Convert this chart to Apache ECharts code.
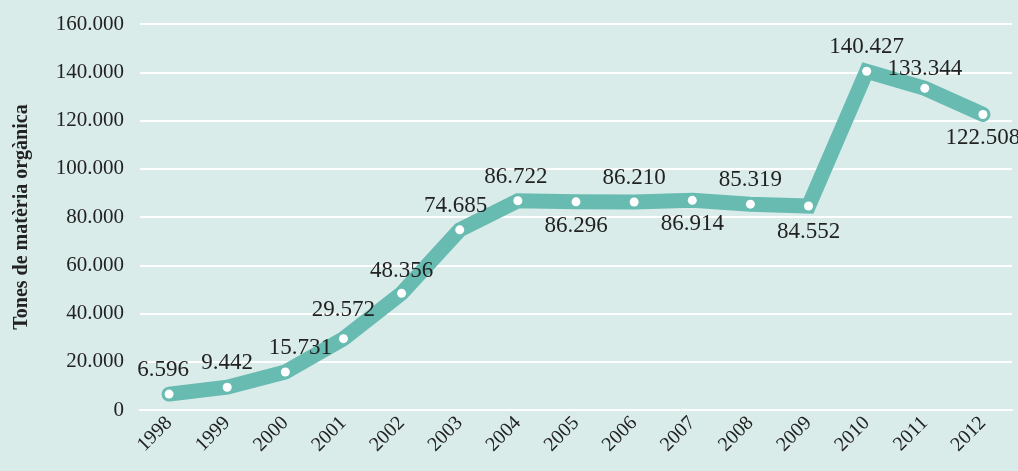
<!DOCTYPE html>
<html>
<head>
<meta charset="utf-8">
<script src="https://cdn.jsdelivr.net/npm/echarts@6/dist/echarts.min.js"></script>
<style>
  html,body{margin:0;padding:0;background:#d9ecea;}
  #chart{width:1018px;height:471px;}
</style>
</head>
<body>
<div id="chart"></div>
<script>
// dades
var years = ['1998','1999','2000','2001','2002','2003','2004','2005','2006','2007','2008','2009','2010','2011','2012'];
var tones = [6596, 9442, 15731, 29572, 48356, 74685, 86722, 86296, 86210, 86914, 85319, 84552, 140427, 133344, 122508];
// on va l'etiqueta de cada punt
var labelPos = ['top','top','top','top','top','top','top','bottom','top','bottom','top','bottom','top','top','bottom'];
var labelShift = [[-6,0],[0,0],[15,0],[0,-5],[0,2],[-4,0],[-2,0],[0,0],[0,0],[0,0],[0,0],[0,2],[0,0],[0,5],[0,0]];

function fmt(v){
    return String(v).replace(/\B(?=(\d{3})+(?!\d))/g, '.');
}

var myChart = echarts.init(document.getElementById('chart'));
var FONT = '"Liberation Serif", "DejaVu Serif", serif';

var seriesData = tones.map(function(v, i){
    return {
        value: v,
        label: {position: labelPos[i], offset: labelShift[i]}
    };
});

myChart.setOption({
    backgroundColor: '#d9ecea',
    animation: false,
    grid: {left: 140, right: 6, top: 24, bottom: 61},
    xAxis: {
        type: 'category',
        data: years,
        axisLine: {lineStyle: {color: '#ffffff', width: 2}},
        axisTick: {alignWithLabel: true, length: 7, lineStyle: {color: '#ffffff', width: 2}},
        axisLabel: {rotate: 45, color: '#222', fontFamily: FONT, fontSize: 20, margin: 10}
    },
    yAxis: {
        type: 'value',
        min: 0,
        max: 160000,
        interval: 20000,
        name: 'Tones de matèria orgànica',
        nameLocation: 'middle',
        nameGap: 108,
        nameTextStyle: {color: '#222', fontFamily: FONT, fontSize: 20, fontWeight: 'bold'},
        axisLine: {show: false},
        axisTick: {show: false},
        splitLine: {lineStyle: {color: '#ffffff', width: 2}},
        axisLabel: {color: '#222', fontFamily: FONT, fontSize: 21, margin: 16, formatter: fmt}
    },
    series: [{
        type: 'line',
        data: seriesData,
        symbol: 'circle',
        symbolSize: 9,
        itemStyle: {color: '#ffffff'},
        lineStyle: {color: '#68bbb1', width: 15, cap: 'round', join: 'miter'},
        label: {
            show: true,
            color: '#222',
            fontFamily: FONT,
            fontSize: 23,
            distance: 8,
            formatter: function(p){ return fmt(p.value); }
        }
    }]
});
</script>
</body>
</html>
